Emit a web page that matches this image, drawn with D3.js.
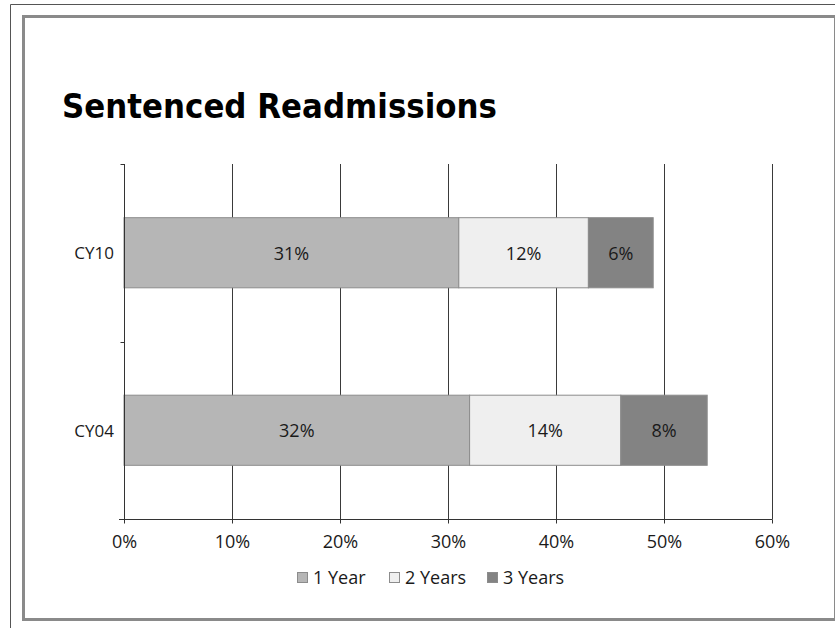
<!DOCTYPE html>
<html>
<head>
<meta charset="utf-8">
<script src="https://cdn.jsdelivr.net/npm/d3@7"></script>
<style>
  html, body { margin: 0; padding: 0; background: #fff; }
  svg { display: block; }
</style>
</head>
<body>
<script>
// ---- data ----
const title = "Sentenced Readmissions";
const categories = ["CY10", "CY04"];
const seriesNames = ["1 Year", "2 Years", "3 Years"];
const oneYear = [31, 32];
const twoYears = [12, 14];
const threeYears = [6, 8];
const xTicks = [0, 10, 20, 30, 40, 50, 60];
const seriesColors = ["#b6b6b6", "#efefef", "#838383"];

const W = 835, H = 628;
const svg = d3.select("body").append("svg").attr("width", W).attr("height", H);

// frame
svg.append("path").attr("d", "M10.5,628 V4.5 H835")
  .attr("fill", "none").attr("stroke", "#555").attr("stroke-width", 1);
svg.append("rect").attr("x", 23.5).attr("y", 16.5).attr("width", 812).attr("height", 603)
  .attr("fill", "#fff").attr("stroke", "#8a8a8a").attr("stroke-width", 3);

// title
svg.append("text").attr("x", 62).attr("y", 118).text(title)
  .attr("font-family", "'DejaVu Sans', sans-serif").attr("font-weight", "bold")
  .attr("font-size", 34).attr("fill", "#000")
  .attr("textLength", 435).attr("lengthAdjust", "spacingAndGlyphs");

// scales
const x = d3.scaleLinear().domain([0, 60]).range([124, 772]);
const y = d3.scaleBand().domain(categories).range([164, 519])
  .paddingInner(0.605).paddingOuter(0.3025);

const font = "'Open Sans', sans-serif";
const fs = 18;

// gridlines
svg.append("g").selectAll("line").data(xTicks.filter(d => d > 0)).join("line")
  .attr("x1", d => Math.round(x(d)) + 0.5).attr("x2", d => Math.round(x(d)) + 0.5)
  .attr("y1", 164).attr("y2", 519)
  .attr("stroke", "#3a3a3a").attr("stroke-width", 1);

// stacked data
const rows = categories.map((c, i) => ({ cat: c, "1 Year": oneYear[i], "2 Years": twoYears[i], "3 Years": threeYears[i] }));
const stack = d3.stack().keys(seriesNames)(rows);

const g = svg.append("g");
stack.forEach((layer, si) => {
  layer.forEach(d => {
    const x0 = x(d[0]), x1 = x(d[1]);
    g.append("rect")
      .attr("x", x0).attr("y", y(d.data.cat))
      .attr("width", x1 - x0).attr("height", y.bandwidth())
      .attr("fill", seriesColors[si]).attr("stroke", "#8c8c8c").attr("stroke-width", 1);
    g.append("text")
      .attr("x", (x0 + x1) / 2).attr("y", y(d.data.cat) + y.bandwidth() / 2)
      .attr("text-anchor", "middle").attr("dominant-baseline", "central")
      .attr("font-family", font).attr("font-size", fs).attr("fill", "#1a1a1a")
      .text((d[1] - d[0]) + "%");
  });
});

// y axis
const yg = svg.append("g").attr("transform", "translate(124.5,0)");
yg.append("line").attr("x1", 0).attr("x2", 0).attr("y1", 164).attr("y2", 519).attr("stroke", "#333");
const yEdges = [y.range()[0], (y.range()[0] + y.range()[1]) / 2, y.range()[1]];
yEdges.forEach(v => {
  yg.append("line").attr("x1", -4).attr("x2", 0).attr("y1", Math.round(v) + 0.5).attr("y2", Math.round(v) + 0.5).attr("stroke", "#333");
});
// category labels
svg.append("g").selectAll("text").data(categories).join("text")
  .attr("x", 114).attr("y", d => y(d) + y.bandwidth() / 2)
  .attr("text-anchor", "end").attr("dominant-baseline", "central")
  .attr("font-family", font).attr("font-size", 17).attr("fill", "#1a1a1a")
  .text(d => d);

// x axis
const xAxis = d3.axisBottom(x).tickValues(xTicks).tickFormat(d => d + "%").tickSize(4).tickSizeOuter(0);
const xg = svg.append("g").attr("transform", "translate(0,519.5)").call(xAxis);
xg.select(".domain").attr("stroke", "#333").attr("d", "M119,0H772.5");
xg.selectAll(".tick line").attr("stroke", "#333");
xg.selectAll(".tick text").attr("font-family", font).attr("font-size", fs).attr("fill", "#1a1a1a").attr("dy", "1.2em");

// legend
const legendItems = [
  { name: seriesNames[0], color: seriesColors[0], x: 297 },
  { name: seriesNames[1], color: seriesColors[1], x: 389 },
  { name: seriesNames[2], color: seriesColors[2], x: 487 }
];
const lg = svg.append("g");
legendItems.forEach(it => {
  lg.append("rect").attr("x", it.x + 0.5).attr("y", 572.5).attr("width", 10).attr("height", 10)
    .attr("fill", it.color).attr("stroke", "#8c8c8c").attr("stroke-width", 1);
  lg.append("text").attr("x", it.x + 16).attr("y", 583.5)
    .attr("font-family", font).attr("font-size", fs).attr("fill", "#1a1a1a").text(it.name);
});
</script>
</body>
</html>
